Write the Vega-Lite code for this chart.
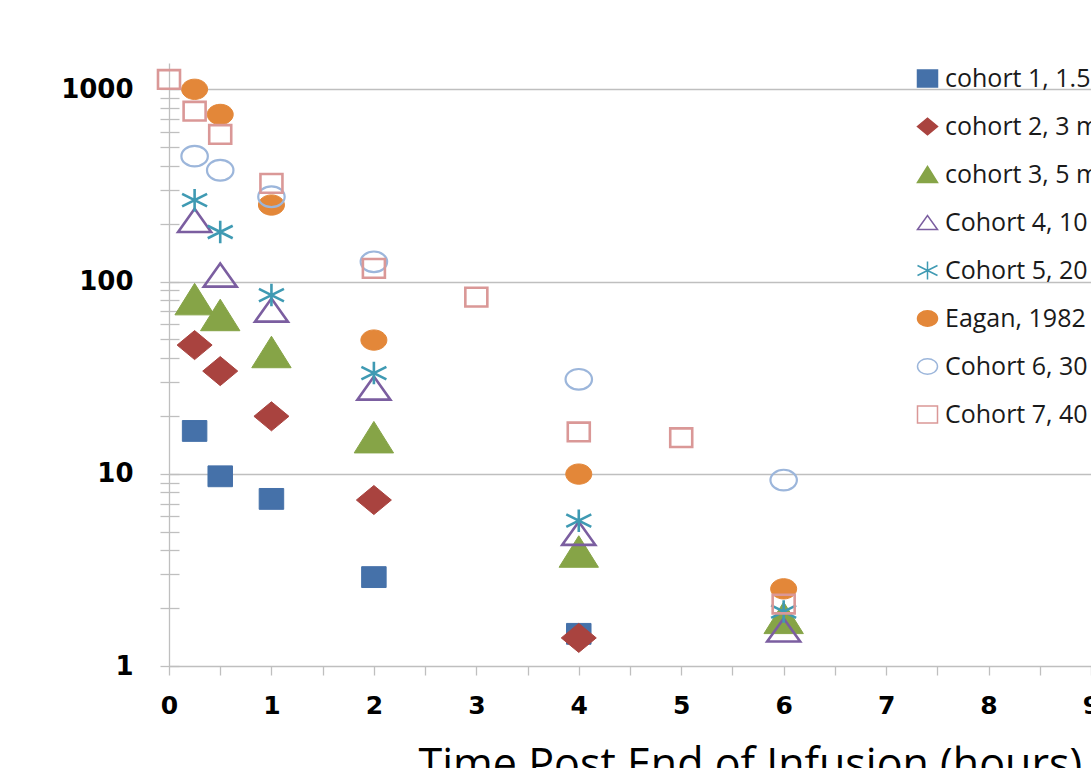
{
  "$schema": "https://vega.github.io/schema/vega-lite/v6.json",
  "autosize": {"type": "none"},
  "padding": {"left": 169, "top": 63, "right": 0, "bottom": 102},
  "width": 922,
  "height": 603,
  "background": "white",
  "config": {
    "view": {"stroke": null},
    "legend": {
      "padding": 0,
      "symbolSize": 400,
      "symbolStrokeWidth": 1.5,
      "labelFont": "Open Sans",
      "labelFontSize": 25,
      "labelColor": "#1A1A1A",
      "labelOffset": 5,
      "labelLimit": 1000,
      "rowPadding": 22
    }
  },
  "data": {"values": [
    {"series": "cohort 1, 1.5 mg/kg", "t": 0.25, "c": 16.7},
    {"series": "cohort 1, 1.5 mg/kg", "t": 0.5, "c": 9.7},
    {"series": "cohort 1, 1.5 mg/kg", "t": 1, "c": 7.4},
    {"series": "cohort 1, 1.5 mg/kg", "t": 2, "c": 2.9},
    {"series": "cohort 1, 1.5 mg/kg", "t": 4, "c": 1.47},
    {"series": "cohort 2, 3 mg/kg", "t": 0.25, "c": 46.7},
    {"series": "cohort 2, 3 mg/kg", "t": 0.5, "c": 34.2},
    {"series": "cohort 2, 3 mg/kg", "t": 1, "c": 19.9},
    {"series": "cohort 2, 3 mg/kg", "t": 2, "c": 7.3},
    {"series": "cohort 2, 3 mg/kg", "t": 4, "c": 1.4},
    {"series": "cohort 3, 5 mg/kg", "t": 0.25, "c": 81},
    {"series": "cohort 3, 5 mg/kg", "t": 0.5, "c": 67},
    {"series": "cohort 3, 5 mg/kg", "t": 1, "c": 43},
    {"series": "cohort 3, 5 mg/kg", "t": 2, "c": 15.5},
    {"series": "cohort 3, 5 mg/kg", "t": 4, "c": 3.94},
    {"series": "cohort 3, 5 mg/kg", "t": 6, "c": 1.78},
    {"series": "Cohort 4, 10 mg/kg", "t": 0.25, "c": 208},
    {"series": "Cohort 4, 10 mg/kg", "t": 0.5, "c": 108},
    {"series": "Cohort 4, 10 mg/kg", "t": 1, "c": 71},
    {"series": "Cohort 4, 10 mg/kg", "t": 2, "c": 27.9},
    {"series": "Cohort 4, 10 mg/kg", "t": 4, "c": 4.9},
    {"series": "Cohort 4, 10 mg/kg", "t": 6, "c": 1.54},
    {"series": "Cohort 5, 20 mg/kg", "t": 0.25, "c": 265},
    {"series": "Cohort 5, 20 mg/kg", "t": 0.5, "c": 181},
    {"series": "Cohort 5, 20 mg/kg", "t": 1, "c": 85},
    {"series": "Cohort 5, 20 mg/kg", "t": 2, "c": 33.4},
    {"series": "Cohort 5, 20 mg/kg", "t": 4, "c": 5.7},
    {"series": "Cohort 5, 20 mg/kg", "t": 6, "c": 1.92},
    {"series": "Eagan, 1982", "t": 0.25, "c": 1000},
    {"series": "Eagan, 1982", "t": 0.5, "c": 740},
    {"series": "Eagan, 1982", "t": 1, "c": 250},
    {"series": "Eagan, 1982", "t": 2, "c": 49.6},
    {"series": "Eagan, 1982", "t": 4, "c": 9.96},
    {"series": "Eagan, 1982", "t": 6, "c": 2.52},
    {"series": "Cohort 6, 30 mg/kg", "t": 0.25, "c": 449},
    {"series": "Cohort 6, 30 mg/kg", "t": 0.5, "c": 379},
    {"series": "Cohort 6, 30 mg/kg", "t": 1, "c": 276},
    {"series": "Cohort 6, 30 mg/kg", "t": 2, "c": 126.6},
    {"series": "Cohort 6, 30 mg/kg", "t": 4, "c": 31},
    {"series": "Cohort 6, 30 mg/kg", "t": 6, "c": 9.27},
    {"series": "Cohort 7, 40 mg/kg", "t": 0, "c": 1125},
    {"series": "Cohort 7, 40 mg/kg", "t": 0.25, "c": 769},
    {"series": "Cohort 7, 40 mg/kg", "t": 0.5, "c": 582},
    {"series": "Cohort 7, 40 mg/kg", "t": 1, "c": 324},
    {"series": "Cohort 7, 40 mg/kg", "t": 2, "c": 117},
    {"series": "Cohort 7, 40 mg/kg", "t": 3, "c": 83},
    {"series": "Cohort 7, 40 mg/kg", "t": 4, "c": 16.5},
    {"series": "Cohort 7, 40 mg/kg", "t": 5, "c": 15.4},
    {"series": "Cohort 7, 40 mg/kg", "t": 6, "c": 2.1}
  ]},
  "mark": {"type": "point", "opacity": 1, "fillOpacity": 1, "strokeOpacity": 1},
  "encoding": {
    "x": {
      "field": "t", "type": "quantitative",
      "scale": {"domain": [0, 9], "nice": false, "zero": false},
      "axis": {
        "values": [0, 0.5, 1, 1.5, 2, 2.5, 3, 3.5, 4, 4.5, 5, 5.5, 6, 6.5, 7, 7.5, 8, 8.5, 9],
        "labelExpr": "datum.value % 1 === 0 ? format(datum.value, 'd') : ''",
        "title": "Time Post End of Infusion (hours)",
        "titleFont": "Open Sans", "titleFontSize": 43, "titleFontWeight": "normal", "titleColor": "#000000",
        "titleAnchor": "start", "titleAlign": "left", "titleBaseline": "top", "titleX": 249, "titleY": 78,
        "labelFont": "DejaVu Sans", "labelFontSize": 25, "labelFontWeight": "bold", "labelColor": "#000000",
        "labelPadding": 18, "labelOverlap": false, "labelFlush": false,
        "tickSize": 9, "tickColor": "#BFBFBF", "tickWidth": 1.3,
        "domainColor": "#BFBFBF", "domainWidth": 1.3,
        "grid": true,
        "gridColor": "#BFBFBF", "gridWidth": 1.3,
        "gridOpacity": {"condition": {"test": "datum.value === 0", "value": 1}, "value": 0}
      }
    },
    "y": {
      "field": "c", "type": "quantitative",
      "scale": {"type": "log", "domain": [1, 1370], "nice": false},
      "axis": {
        "values": [1, 2, 3, 4, 5, 6, 7, 8, 9, 10, 20, 30, 40, 50, 60, 70, 80, 90, 100, 200, 300, 400, 500, 600, 700, 800, 900, 1000],
        "labelExpr": "indexof([1, 10, 100, 1000], datum.value) >= 0 ? format(datum.value, 'd') : ''",
        "title": null,
        "offset": -10,
        "domain": false,
        "labelFont": "DejaVu Sans", "labelFontSize": 26, "labelFontWeight": "bold", "labelColor": "#000000",
        "labelPadding": 27, "labelOverlap": false,
        "tickSize": 19, "tickColor": "#BFBFBF", "tickWidth": 1.3,
        "grid": true,
        "gridColor": "#BFBFBF", "gridWidth": 1.3,
        "gridOpacity": {"condition": {"test": "indexof([10, 100, 1000], datum.value) >= 0", "value": 1}, "value": 0}
      }
    },
    "shape": {
      "field": "series", "type": "nominal",
      "scale": {
        "domain": ["cohort 1, 1.5 mg/kg", "cohort 2, 3 mg/kg", "cohort 3, 5 mg/kg", "Cohort 4, 10 mg/kg", "Cohort 5, 20 mg/kg", "Eagan, 1982", "Cohort 6, 30 mg/kg", "Cohort 7, 40 mg/kg"],
        "range": [
          "M-1,-0.85L1,-0.85L1,0.85L-1,0.85Z",
          "M-1,0L0,-0.83L1,0L0,0.83Z",
          "M-1,0.8L0,-0.8L1,0.8Z",
          "M-1,0.7L0,-0.7L1,0.7Z",
          "M0,-0.9L0,0.9M-1,-0.5L1,0.5M-1,0.5L1,-0.5",
          "M-1,0A1,0.78 0 1,1 1,0A1,0.78 0 1,1 -1,0Z",
          "M-1,0A1,0.78 0 1,1 1,0A1,0.78 0 1,1 -1,0Z",
          "M-1,-0.85L1,-0.85L1,0.85L-1,0.85Z"
        ]
      },
      "legend": {"title": null, "orient": "none", "legendX": 746, "legendY": 3}
    },
    "fill": {
      "field": "series", "type": "nominal",
      "scale": {
        "domain": ["cohort 1, 1.5 mg/kg", "cohort 2, 3 mg/kg", "cohort 3, 5 mg/kg", "Cohort 4, 10 mg/kg", "Cohort 5, 20 mg/kg", "Eagan, 1982", "Cohort 6, 30 mg/kg", "Cohort 7, 40 mg/kg"],
        "range": ["#4571A9", "#A9433F", "#86A447", "transparent", "transparent", "#E38739", "transparent", "transparent"]
      },
      "legend": {"title": null, "orient": "none", "legendX": 746, "legendY": 3}
    },
    "stroke": {
      "field": "series", "type": "nominal",
      "scale": {
        "domain": ["cohort 1, 1.5 mg/kg", "cohort 2, 3 mg/kg", "cohort 3, 5 mg/kg", "Cohort 4, 10 mg/kg", "Cohort 5, 20 mg/kg", "Eagan, 1982", "Cohort 6, 30 mg/kg", "Cohort 7, 40 mg/kg"],
        "range": ["#4571A9", "#A9433F", "#86A447", "#7B5EA0", "#3F9AB3", "#E38739", "#9CB6DB", "#DA9897"]
      },
      "legend": {"title": null, "orient": "none", "legendX": 746, "legendY": 3}
    },
    "size": {
      "field": "series", "type": "nominal", "sort": null,
      "scale": {
        "type": "ordinal",
        "range": [600, 1225, 1550, 1089, 625, 676, 700, 484]
      },
      "legend": null
    },
    "strokeWidth": {
      "field": "series", "type": "nominal", "sort": null,
      "scale": {
        "type": "ordinal",
        "range": [1, 1, 1, 2.6, 2.6, 1, 2.2, 2.6]
      },
      "legend": null
    }
  }
}
